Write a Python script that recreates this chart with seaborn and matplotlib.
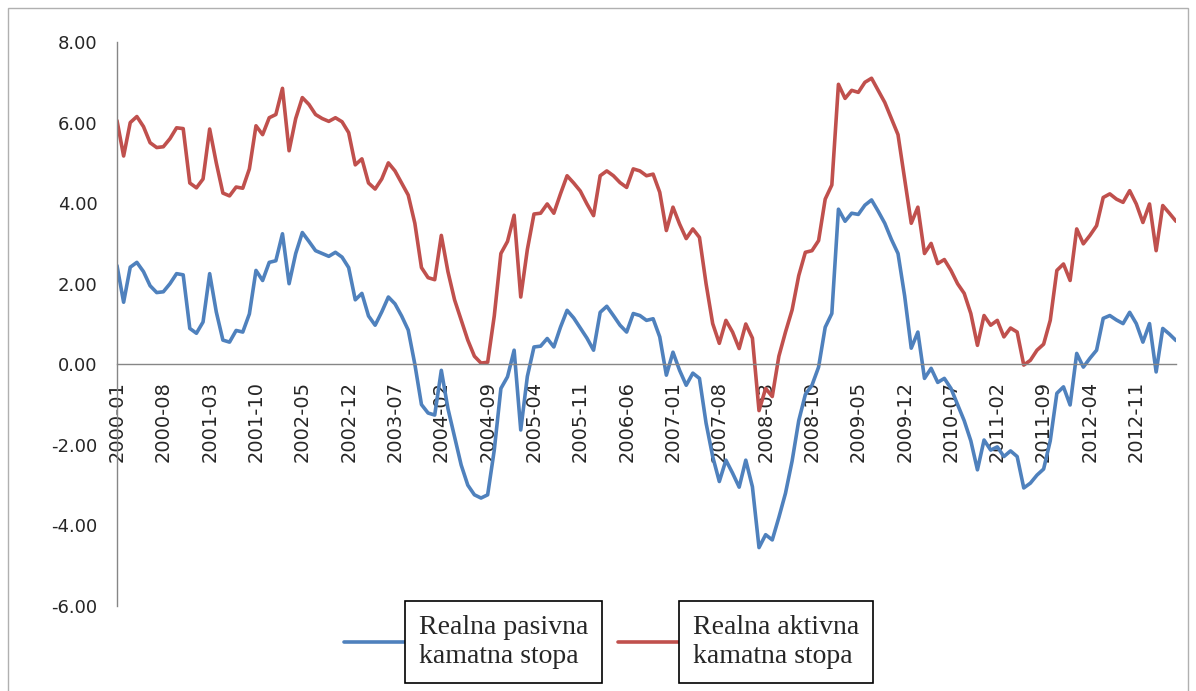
import matplotlib
matplotlib.use("Agg")
import matplotlib.pyplot as plt
from matplotlib.patches import Rectangle
import seaborn as sns
import pandas as pd
import numpy as np

# monthly series, 2000-01 .. 2013-05
pasivna = [
    2.45, 1.54, 2.41, 2.53, 2.30, 1.95, 1.78, 1.80, 2.00, 2.25,
    2.22, 0.89, 0.77, 1.05, 2.25, 1.30, 0.60, 0.55, 0.84, 0.80,
    1.25, 2.33, 2.08, 2.53, 2.57, 3.24, 2.00, 2.75, 3.27, 3.05,
    2.82, 2.75, 2.68, 2.78, 2.66, 2.40, 1.60, 1.76, 1.20, 0.97,
    1.30, 1.67, 1.50, 1.20, 0.85, 0.00, -1.00, -1.21, -1.26, -0.15,
    -1.10, -1.80, -2.50, -3.00, -3.24, -3.32, -3.24, -2.13, -0.60, -0.31,
    0.35, -1.63, -0.30, 0.43, 0.45, 0.64, 0.43, 0.92, 1.34, 1.15,
    0.90, 0.65, 0.35, 1.29, 1.44, 1.21, 0.97, 0.80, 1.26, 1.21,
    1.09, 1.13, 0.68, -0.27, 0.30, -0.15, -0.52, -0.22, -0.35, -1.46,
    -2.29, -2.91, -2.38, -2.70, -3.05, -2.38, -3.04, -4.55, -4.23, -4.36,
    -3.80, -3.20, -2.40, -1.40, -0.75, -0.52, -0.07, 0.92, 1.26, 3.85,
    3.55, 3.75, 3.72, 3.95, 4.08, 3.80, 3.50, 3.10, 2.75, 1.70,
    0.40, 0.80, -0.35, -0.10, -0.45, -0.35, -0.60, -1.00, -1.40, -1.90,
    -2.62, -1.88, -2.13, -2.05, -2.29, -2.15, -2.29, -3.07, -2.95, -2.75,
    -2.60, -1.90, -0.72, -0.56, -1.01, 0.27, -0.07, 0.15, 0.35, 1.14,
    1.21, 1.10, 1.01, 1.29, 1.01, 0.55, 1.01, -0.19, 0.89, 0.75,
    0.59,
]
aktivna = [
    6.05, 5.17, 6.00, 6.15, 5.90, 5.50, 5.38, 5.40, 5.60, 5.87,
    5.85, 4.50, 4.38, 4.60, 5.84, 5.00, 4.25, 4.18, 4.40, 4.37,
    4.85, 5.92, 5.70, 6.12, 6.20, 6.85, 5.30, 6.10, 6.62, 6.45,
    6.20, 6.10, 6.03, 6.12, 6.02, 5.75, 4.95, 5.10, 4.50, 4.35,
    4.60, 5.00, 4.80, 4.50, 4.20, 3.50, 2.40, 2.15, 2.10, 3.20,
    2.30, 1.60, 1.10, 0.60, 0.20, 0.03, 0.05, 1.20, 2.75, 3.05,
    3.70, 1.67, 2.85, 3.73, 3.75, 3.98, 3.75, 4.23, 4.68, 4.50,
    4.30, 3.98, 3.69, 4.68, 4.80, 4.68, 4.51, 4.39, 4.85, 4.80,
    4.68, 4.72, 4.27, 3.32, 3.90, 3.48, 3.12, 3.36, 3.15, 2.00,
    1.01, 0.52, 1.09, 0.80, 0.39, 1.00, 0.65, -1.15, -0.60, -0.80,
    0.20, 0.80, 1.35, 2.20, 2.78, 2.82, 3.07, 4.10, 4.45, 6.95,
    6.60, 6.80, 6.75, 7.00, 7.10, 6.80, 6.50, 6.10, 5.70, 4.60,
    3.50, 3.90, 2.75, 3.00, 2.50, 2.60, 2.33, 2.00, 1.76, 1.26,
    0.47, 1.21, 0.97, 1.09, 0.68, 0.90, 0.80, -0.02, 0.10, 0.35,
    0.50, 1.09, 2.33, 2.49, 2.08, 3.36, 2.99, 3.20, 3.44, 4.14,
    4.23, 4.10, 4.02, 4.31, 3.98, 3.52, 3.98, 2.82, 3.94, 3.75,
    3.55,
]
months = pd.period_range("2000-01", periods=len(pasivna), freq="M").strftime("%Y-%m").tolist()
series_names = ["Realna pasivna\nkamatna stopa", "Realna aktivna\nkamatna stopa"]
colors = ["#4F81BD", "#C0504D"]
y_ticks = [-6, -4, -2, 0, 2, 4, 6, 8]

frames = []
for name, vals in zip(series_names, [pasivna, aktivna]):
    frames.append(pd.DataFrame({"idx": np.arange(len(vals)), "month": months,
                                "value": vals, "series": name}))
df = pd.concat(frames, ignore_index=True)

sns.set_style("white")
W, H = 1196, 691
fig = plt.figure(figsize=(W / 100, H / 100), dpi=100)
ax = fig.add_axes([117 / W, 1 - 606 / H, (1176 - 117) / W, (606 - 42) / H])

sns.lineplot(data=df, x="idx", y="value", hue="series", hue_order=series_names,
             palette=dict(zip(series_names, colors)), linewidth=2.6, ax=ax,
             legend=False)

ax.set_xlim(0, len(months) - 1)
ax.set_ylim(-6, 8)

for s in ["top", "right"]:
    ax.spines[s].set_visible(False)
ax.spines["bottom"].set_position(("data", 0))
for s in ["bottom", "left"]:
    ax.spines[s].set_color("#868686")
    ax.spines[s].set_linewidth(1)

ax.set_yticks(y_ticks)
ax.set_yticklabels([f"{v:.2f}" for v in y_ticks])
xt = list(range(0, len(months), 7))
ax.set_xticks(xt)
ax.set_xticklabels([months[i] for i in xt])
ax.set_xlabel("")
ax.set_ylabel("")
ax.tick_params(axis="both", direction="out", length=5, width=1, color="#868686",
               labelsize=13, labelcolor="#262626")
ax.tick_params(axis="x", pad=7, labelrotation=90, labelsize=14)
ax.tick_params(axis="y", pad=9)

# legend with boxed labels
handles = ax.get_lines()[:2]
leg = fig.legend(handles, series_names, loc="center", bbox_to_anchor=(0.503, 0.071),
                 ncol=2, frameon=False, handlelength=2.2, handletextpad=0.5,
                 columnspacing=1.05, prop={"family": "Liberation Serif", "size": 20})
for t in leg.get_texts():
    t.set_bbox(dict(boxstyle="square,pad=0.5", fc="white", ec="black", lw=1.2))

# chart area border
fig.add_artist(Rectangle((8 / W, -0.05), (1188 - 8) / W, 1 - 8 / H + 0.05,
                         transform=fig.transFigure, fill=False, ec="#b0b0b0", lw=1))

fig.savefig("out.png", dpi=100)
